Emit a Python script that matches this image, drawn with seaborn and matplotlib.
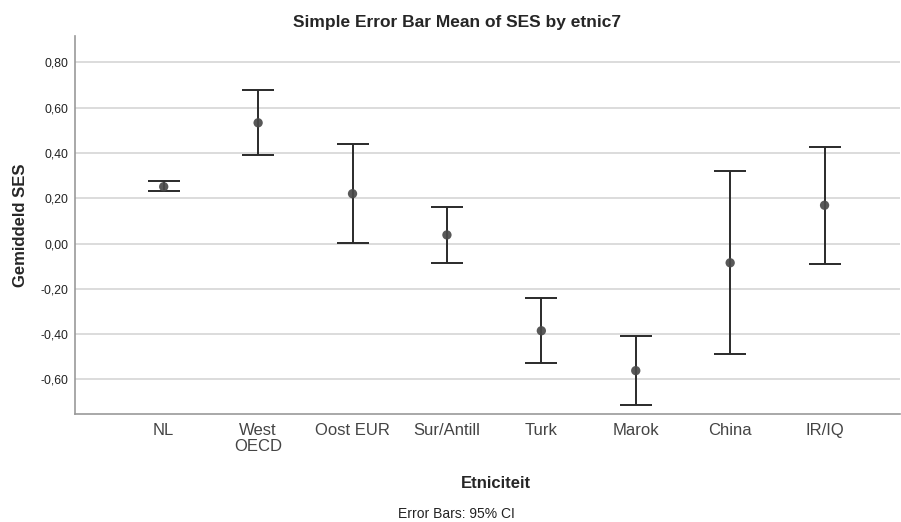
import matplotlib
matplotlib.use('Agg')
import matplotlib.pyplot as plt
import seaborn as sns
import pandas as pd
import numpy as np

# Gemiddelde SES per etniciteit met 95% betrouwbaarheidsinterval
categories = ['NL', 'West\nOECD', 'Oost EUR', 'Sur/Antill', 'Turk', 'Marok', 'China', 'IR/IQ']
means = [0.251, 0.533, 0.220, 0.038, -0.385, -0.561, -0.085, 0.169]
ci_low = [0.230, 0.392, 0.001, -0.087, -0.526, -0.712, -0.489, -0.089]
ci_high = [0.275, 0.678, 0.438, 0.163, -0.242, -0.410, 0.321, 0.426]
y_ticks = [-0.6, -0.4, -0.2, 0.0, 0.2, 0.4, 0.6, 0.8]

sns.set_style("white")
plt.rcParams['font.family'] = ['Liberation Sans', 'DejaVu Sans']

df = pd.DataFrame({'etnic': categories, 'mean': means, 'lo': ci_low, 'hi': ci_high})
df['pos'] = np.arange(len(df))

fig = plt.figure(figsize=(9.01, 5.22), dpi=100)
ax = fig.add_axes([0.0832, 0.2075, 0.9158, 0.7235])

# grid
for t in y_ticks:
    ax.axhline(t, color='#d9d9d9', linewidth=1.3, zorder=0)

ax.errorbar(df['pos'], df['mean'],
            yerr=[df['mean'] - df['lo'], df['hi'] - df['mean']],
            fmt='none', ecolor='#2a2a2a', elinewidth=1.4, capsize=11.5, capthick=1.4, zorder=2)
sns.scatterplot(data=df, x='pos', y='mean', ax=ax, s=45, color='#4a4a4a',
                edgecolor='none', alpha=0.92, zorder=3, legend=False)

ax.set_xlim(-0.94, 7.80)
ax.set_ylim(-0.751, 0.916)
ax.set_xticks(df['pos'])
ax.set_xticklabels(categories, fontsize=12, color='#444444', linespacing=1.05)
ax.set_yticks(y_ticks)
ax.set_yticklabels([f'{t:.2f}'.replace('.', ',') for t in y_ticks], fontsize=8.8, color='#222222')
ax.tick_params(axis='both', length=0)
ax.tick_params(axis='y', pad=5)
ax.tick_params(axis='x', pad=7)

for side in ['top', 'right']:
    ax.spines[side].set_visible(False)
for side in ['left', 'bottom']:
    ax.spines[side].set_color('#999999')
    ax.spines[side].set_linewidth(1.2)

ax.set_xlabel('Etniciteit', fontsize=12, fontweight='bold')
ax.xaxis.set_label_coords(0.51, -0.165)
ax.set_ylabel('Gemiddeld SES', fontsize=12, fontweight='bold')
ax.yaxis.set_label_coords(-0.057, 0.5)

fig.text(0.507, 0.956, 'Simple Error Bar Mean of SES by etnic7', ha='center', va='center',
         fontsize=12.5, fontweight='bold')
fig.text(0.507, 0.016, 'Error Bars: 95% CI', ha='center', va='center', fontsize=10, color='#222222')

fig.savefig('out.png', dpi=100)
